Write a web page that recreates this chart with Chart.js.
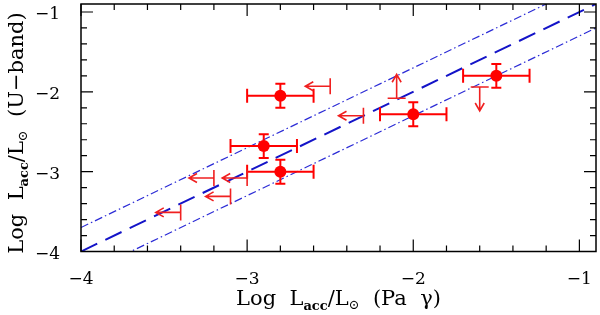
<!DOCTYPE html>
<html><head><meta charset="utf-8">
<script src="https://cdn.jsdelivr.net/npm/chart.js@4.4.0/dist/chart.umd.min.js"></script>
<style>html,body{margin:0;padding:0;background:#fff}#wrap{width:600px;height:315px;position:relative}</style>
</head><body><div id="wrap"><canvas id="c"></canvas></div>
<script>
// ---- data ----
const ptX = [-2.8, -2.9, -2.8, -2.0, -1.5];
const ptY = [-2.05, -2.68, -3.0, -2.28, -1.80];
const ptXErr = [0.2, 0.2, 0.2, 0.2, 0.2];
const ptYErr = [0.15, 0.15, 0.15, 0.15, 0.15];
// upper limits on x (arrows pointing left)
const xLimX = [-2.5, -2.3, -3.2, -3.0, -3.1, -3.4];
const xLimY = [-1.93, -2.30, -3.08, -3.08, -3.31, -3.51];
// lower limit on y (arrow pointing up)
const yLoX = [-2.1];
const yLoY = [-2.08];
// upper limit on y (arrow pointing down)
const yUpX = [-1.6];
const yUpY = [-1.94];
// relation y = x + offset
const lineX = [-4, -0.9];
const lineOffsets = [0, 0.3, -0.3];
const xTicks = [-4, -3, -2, -1];
const yTicks = [-4, -3, -2, -1];

const SERIF = '"DejaVu Serif", "Liberation Serif", serif';
const fmt = v => (v < 0 ? '\u2212' : '') + Math.abs(v);

function drawRich(ctx, segs, cx, cy) {
  let total = 0;
  segs.forEach(s => {
    ctx.font = (s.bold ? 'bold ' : '') + s.size + 'px ' + SERIF;
    s.w = ctx.measureText(s.t).width;
    total += s.w;
  });
  let x = cx - total / 2;
  ctx.textBaseline = 'alphabetic';
  ctx.textAlign = 'left';
  segs.forEach(s => {
    ctx.font = (s.bold ? 'bold ' : '') + s.size + 'px ' + SERIF;
    ctx.fillText(s.t, x, cy + (s.dy || 0));
    x += s.w;
  });
}

const decor = {
  id: 'decor',
  afterDatasetsDraw(chart) {
    const ctx = chart.ctx, xs = chart.scales.x, ys = chart.scales.y;
    const X = v => xs.getPixelForValue(v), Y = v => ys.getPixelForValue(v);
    ctx.save();
    ctx.beginPath();
    ctx.rect(chart.chartArea.left, chart.chartArea.top, chart.chartArea.width, chart.chartArea.height);
    ctx.clip();
    // error bars
    ctx.strokeStyle = '#ff0000';
    ctx.lineWidth = 2;
    ptX.forEach((x, i) => {
      const y = ptY[i];
      const x0 = X(x - ptXErr[i]), x1 = X(x + ptXErr[i]), py = Y(y);
      const y0 = Y(y - ptYErr[i]), y1 = Y(y + ptYErr[i]), px = X(x);
      ctx.beginPath();
      ctx.moveTo(x0, py); ctx.lineTo(x1, py);
      ctx.moveTo(x0, py - 7); ctx.lineTo(x0, py + 7);
      ctx.moveTo(x1, py - 7); ctx.lineTo(x1, py + 7);
      ctx.moveTo(px, y0); ctx.lineTo(px, y1);
      ctx.moveTo(px - 5, y0); ctx.lineTo(px + 5, y0);
      ctx.moveTo(px - 5, y1); ctx.lineTo(px + 5, y1);
      ctx.stroke();
    });
    // limit arrows
    ctx.strokeStyle = '#f02020';
    ctx.lineWidth = 1.6;
    xLimX.forEach((x, i) => {
      const px = X(x), py = Y(xLimY[i]), tip = X(x - 0.15);
      ctx.beginPath();
      ctx.moveTo(px, py - 8); ctx.lineTo(px, py + 8);
      ctx.moveTo(px, py); ctx.lineTo(tip, py);
      ctx.moveTo(tip + 8, py - 4.5); ctx.lineTo(tip, py); ctx.lineTo(tip + 8, py + 4.5);
      ctx.stroke();
    });
    yLoX.forEach((x, i) => {
      const px = X(x), py = Y(yLoY[i]), tip = Y(yLoY[i] + 0.3);
      ctx.beginPath();
      ctx.moveTo(px - 9, py); ctx.lineTo(px + 9, py);
      ctx.moveTo(px, py); ctx.lineTo(px, tip);
      ctx.moveTo(px - 4.5, tip + 8); ctx.lineTo(px, tip); ctx.lineTo(px + 4.5, tip + 8);
      ctx.stroke();
    });
    yUpX.forEach((x, i) => {
      const px = X(x), py = Y(yUpY[i]), tip = Y(yUpY[i] - 0.3);
      ctx.beginPath();
      ctx.moveTo(px - 9, py); ctx.lineTo(px + 9, py);
      ctx.moveTo(px, py); ctx.lineTo(px, tip);
      ctx.moveTo(px - 4.5, tip - 8); ctx.lineTo(px, tip); ctx.lineTo(px + 4.5, tip - 8);
      ctx.stroke();
    });
    // points on top
    ctx.fillStyle = '#ff0000';
    ptX.forEach((x, i) => {
      ctx.beginPath();
      ctx.arc(X(x), Y(ptY[i]), 6, 0, Math.PI * 2);
      ctx.fill();
    });
    ctx.restore();
  },
  afterDraw(chart) {
    const ctx = chart.ctx, a = chart.chartArea, xs = chart.scales.x, ys = chart.scales.y;
    ctx.save();
    ctx.strokeStyle = '#000';
    ctx.lineWidth = 1.5;
    ctx.strokeRect(a.left, a.top, a.right - a.left, a.bottom - a.top);
    ctx.lineWidth = 1.2;
    ctx.beginPath();
    for (let i = 0; i <= 15; i++) {
      const v = -4 + i * 0.2;
      const len = (i % 5 === 0) ? 12 : 6;
      const px = xs.getPixelForValue(v), py = ys.getPixelForValue(v);
      ctx.moveTo(px, a.bottom); ctx.lineTo(px, a.bottom - len);
      ctx.moveTo(px, a.top); ctx.lineTo(px, a.top + len);
      ctx.moveTo(a.left, py); ctx.lineTo(a.left + len, py);
      ctx.moveTo(a.right, py); ctx.lineTo(a.right - len, py);
    }
    ctx.stroke();
    ctx.fillStyle = '#000';
    const cx = (a.left + a.right) / 2;
    drawRich(ctx, [
      {t: 'Log  L', size: 21},
      {t: 'acc', size: 13, bold: true, dy: 5},
      {t: '/L', size: 21},
      {t: '\u2299', size: 13, dy: 4},
      {t: '  (Pa  \u03b3)', size: 21}
    ], cx, 305);
    ctx.translate(23, 133);
    ctx.rotate(-Math.PI / 2);
    drawRich(ctx, [
      {t: 'Log  L', size: 21},
      {t: 'acc', size: 13, bold: true, dy: 5},
      {t: '/L', size: 21},
      {t: '\u2299', size: 13, dy: 4},
      {t: '  (U\u2212band)', size: 21}
    ], 0, 0);
    ctx.restore();
  }
};

const lineStyles = [
  {color: '#1414c8', width: 2, dash: [18, 9]},
  {color: '#2c2cd6', width: 1.2, dash: [8, 3, 1.5, 3]},
  {color: '#2c2cd6', width: 1.2, dash: [8, 3, 1.5, 3]}
];

const datasets = lineOffsets.map((off, i) => ({
  type: 'line',
  data: lineX.map(x => ({x: x, y: x + off})),
  borderColor: lineStyles[i].color,
  borderWidth: lineStyles[i].width,
  borderDash: lineStyles[i].dash,
  pointRadius: 0,
  fill: false,
  tension: 0
}));

new Chart(document.getElementById('c'), {
  type: 'scatter',
  data: {datasets: datasets},
  options: {
    responsive: true,
    maintainAspectRatio: false,
    animation: false,
    devicePixelRatio: 1,
    layout: {padding: {top: 4, right: 4, left: 0, bottom: 0}},
    plugins: {legend: {display: false}, tooltip: {enabled: false}},
    scales: {
      x: {
        type: 'linear', min: -4, max: -0.9,
        afterBuildTicks: s => { s.ticks = xTicks.map(v => ({value: v})); },
        afterFit: s => { s.height = 63.5; s.paddingLeft = 0; s.paddingRight = 0; },
        grid: {display: false}, border: {display: false},
        ticks: {callback: v => fmt(v), color: '#000', font: {family: SERIF, size: 17}, padding: 10, maxRotation: 0, autoSkip: false}
      },
      y: {
        type: 'linear', min: -4, max: -0.9,
        afterBuildTicks: s => { s.ticks = yTicks.map(v => ({value: v})); },
        afterFit: s => { s.width = 81; s.paddingTop = 0; s.paddingBottom = 0; },
        grid: {display: false}, border: {display: false},
        ticks: {callback: v => fmt(v), color: '#000', font: {family: SERIF, size: 17}, padding: 13, labelOffset: 3, autoSkip: false}
      }
    }
  },
  plugins: [decor]
});
</script></body></html>
